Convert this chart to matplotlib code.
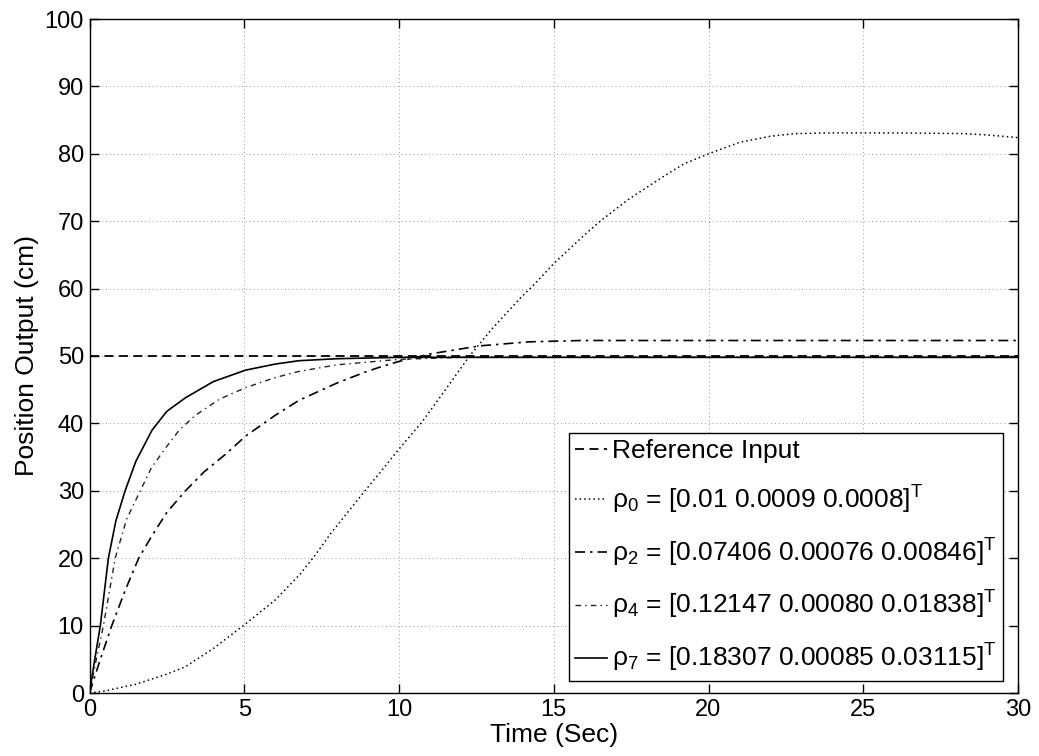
import matplotlib
matplotlib.use("Agg")
import matplotlib.pyplot as plt

plt.rcParams['font.family'] = ['Liberation Sans', 'DejaVu Sans']
plt.rcParams['mathtext.fontset'] = 'custom'
plt.rcParams['mathtext.rm'] = 'Liberation Sans'
plt.rcParams['mathtext.it'] = 'Liberation Sans'

# reference input
ref_t = [0, 30]
ref_y = [50, 50]

# rho_0 (dotted, slow)
t0 = [0, 0.5, 1.5, 2.5, 3.1, 4.0, 5.0, 6.0, 6.8, 7.3, 7.8, 8.9, 9.35, 10.0, 10.76, 11.5,
      12.28, 13.0, 13.9, 14.3, 15.0, 16.0, 16.5, 17.4, 18.5, 19.2, 20.0, 21.0, 22.0, 22.8,
      24.0, 26.0, 28.2, 29.0, 30.0]
y0 = [0, 0.3, 1.3, 2.8, 3.9, 6.6, 10.1, 13.8, 17.6, 20.5, 23.7, 30.0, 32.5, 36.2, 40.3, 45.0,
      50.0, 54.0, 58.5, 60.3, 63.7, 68.0, 70.0, 73.2, 76.5, 78.5, 80.0, 81.7, 82.6, 83.0,
      83.1, 83.1, 83.0, 82.8, 82.4]

# rho_2 (dash-dot, overshoots to ~52)
t2 = [0, 0.35, 0.72, 1.15, 1.59, 2.0, 2.5, 3.1, 3.7, 4.39, 5.04, 6.0, 6.76, 8.0, 8.9,
      9.35, 10.0, 11.0, 12.6, 14.2, 15.9, 17.0, 20.0, 25.0, 30.0]
y2 = [0, 5.0, 10.0, 15.2, 20.0, 23.2, 26.8, 30.0, 32.8, 35.4, 38.1, 41.2, 43.4, 46.0, 47.6,
      48.3, 49.2, 50.3, 51.5, 52.1, 52.3, 52.3, 52.3, 52.3, 52.3]

# rho_4 (dash-dot, faster)
t4 = [0, 0.22, 0.45, 0.83, 1.2, 1.64, 2.0, 2.45, 2.9, 3.42, 4.2, 5.04, 6.0, 6.76, 8.0,
      10.0, 12.0, 15.0, 20.0, 25.0, 30.0]
y4 = [0, 5.0, 10.0, 20.0, 25.8, 30.0, 33.4, 36.3, 39.0, 41.2, 43.6, 45.3, 46.8, 47.7, 48.7,
      49.5, 49.8, 49.8, 49.8, 49.8, 49.8]

# rho_7 (solid, fastest)
t7 = [0, 0.17, 0.35, 0.61, 0.85, 1.15, 1.5, 2.02, 2.5, 3.1, 4.0, 5.04, 6.0, 6.76, 8.0,
      10.0, 12.0, 15.0, 20.0, 25.0, 30.0]
y7 = [0, 5.0, 10.0, 20.0, 25.5, 30.0, 34.4, 39.0, 41.8, 43.8, 46.2, 47.9, 48.8, 49.3, 49.6,
      49.8, 49.8, 49.8, 49.8, 49.8, 49.8]

labels = [
    'Reference Input',
    r'$\rho_0$ = [0.01 0.0009 0.0008]$^\mathrm{T}$',
    r'$\rho_2$ = [0.07406 0.00076 0.00846]$^\mathrm{T}$',
    r'$\rho_4$ = [0.12147 0.00080 0.01838]$^\mathrm{T}$',
    r'$\rho_7$ = [0.18307 0.00085 0.03115]$^\mathrm{T}$',
]

fig = plt.figure(figsize=(10.39, 7.56), dpi=100)
ax = fig.add_axes([89.5 / 1039, 63 / 756, 928.5 / 1039, 674 / 756])

ax.plot(ref_t, ref_y, color='black', linestyle=(0, (5, 3)), lw=1.3, label=labels[0])
ax.plot(t0, y0, color='black', linestyle=(0, (1, 2)), lw=1.1, label=labels[1])
ax.plot(t2, y2, color='black', linestyle=(0, (6, 3, 1.5, 3)), lw=1.2, label=labels[2])
ax.plot(t4, y4, color='#222222', linestyle=(0, (4, 3, 1, 3)), lw=1.0, label=labels[3])
ax.plot(t7, y7, color='black', linestyle='-', lw=1.2, label=labels[4])

ax.set_xlim(0, 30)
ax.set_ylim(0, 100)
ax.set_xticks(range(0, 31, 5))
ax.set_yticks(range(0, 101, 10))
ax.tick_params(direction='in', length=6.5, width=1, top=True, right=True,
               labelsize=17, pad=4)
ax.grid(True, linestyle=(0, (1, 3)), color='#999999', lw=0.7)
for s in ax.spines.values():
    s.set_linewidth(1.0)

ax.set_xlabel('Time (Sec)', fontsize=19, labelpad=2)
ax.set_ylabel('Position Output (cm)', fontsize=19, labelpad=4)

leg = ax.legend(loc='lower right', bbox_to_anchor=(0.984, 0.018), borderaxespad=0,
                fontsize=19, handlelength=1.2, handletextpad=0.2, borderpad=0.25,
                labelspacing=0.78, fancybox=False, framealpha=1, edgecolor='black')
leg.get_frame().set_linewidth(1.0)

fig.savefig('out.png', dpi=100)
